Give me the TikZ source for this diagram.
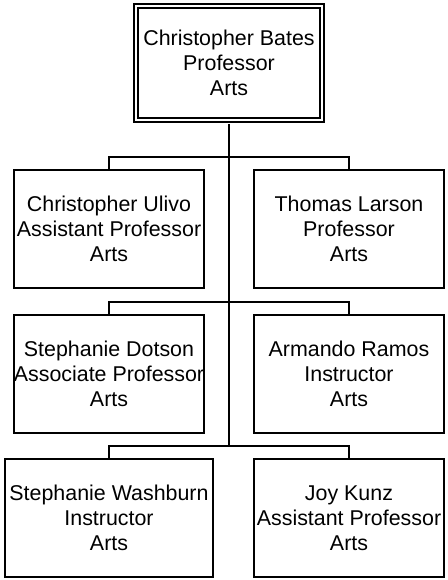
\documentclass[tikz,border=0pt]{standalone}
\usepackage{fontspec}
\setmainfont{Liberation Sans}
\newlength{\du}
\setlength{\du}{1pt}
\tikzset{
  person/.style={draw, line width=2\du, minimum width=190\du, minimum height=118\du,
    inner sep=0pt, align=center, font=\fontsize{21.4}{25}\selectfont},
  head/.style={person, double, double distance=2\du, minimum width=186\du, minimum height=114\du},
  link/.style={line width=2\du}
}

\begin{document}
\begin{tikzpicture}
\pgftransformxscale{1.000000}
\pgftransformyscale{-1.000000}
\useasboundingbox (0\du,0\du) rectangle (447\du,580\du);
% head of department
\node[head] (bates) at (229\du,63\du) {Christopher Bates\\Professor\\Arts};
% staff
\node[person] (ulivo) at (109\du,229\du) {Christopher Ulivo\\Assistant Professor\\Arts};
\node[person] (larson) at (349\du,229\du) {Thomas Larson\\Professor\\Arts};
\node[person] (dotson) at (109\du,374\du) {Stephanie Dotson\\Associate Professor\\Arts};
\node[person] (ramos) at (349\du,374\du) {Armando Ramos\\Instructor\\Arts};
\node[person, minimum width=208\du] (washburn) at (109\du,518\du) {Stephanie Washburn\\Instructor\\Arts};
\node[person] (kunz) at (349\du,518\du) {Joy Kunz\\Assistant Professor\\Arts};
% junctions on the trunk
\coordinate (j1) at (229\du,157\du);
\coordinate (j2) at (229\du,302\du);
\coordinate (j3) at (229\du,446\du);
\draw[link, shorten <=3\du] (bates.south) -- (j3);
\draw[link] (j1) -| (ulivo.north);
\draw[link] (j1) -| (larson.north);
\draw[link] (j2) -| (dotson.north);
\draw[link] (j2) -| (ramos.north);
\draw[link] (j3) -| (washburn.north);
\draw[link] (j3) -| (kunz.north);
\end{tikzpicture}
\end{document}
